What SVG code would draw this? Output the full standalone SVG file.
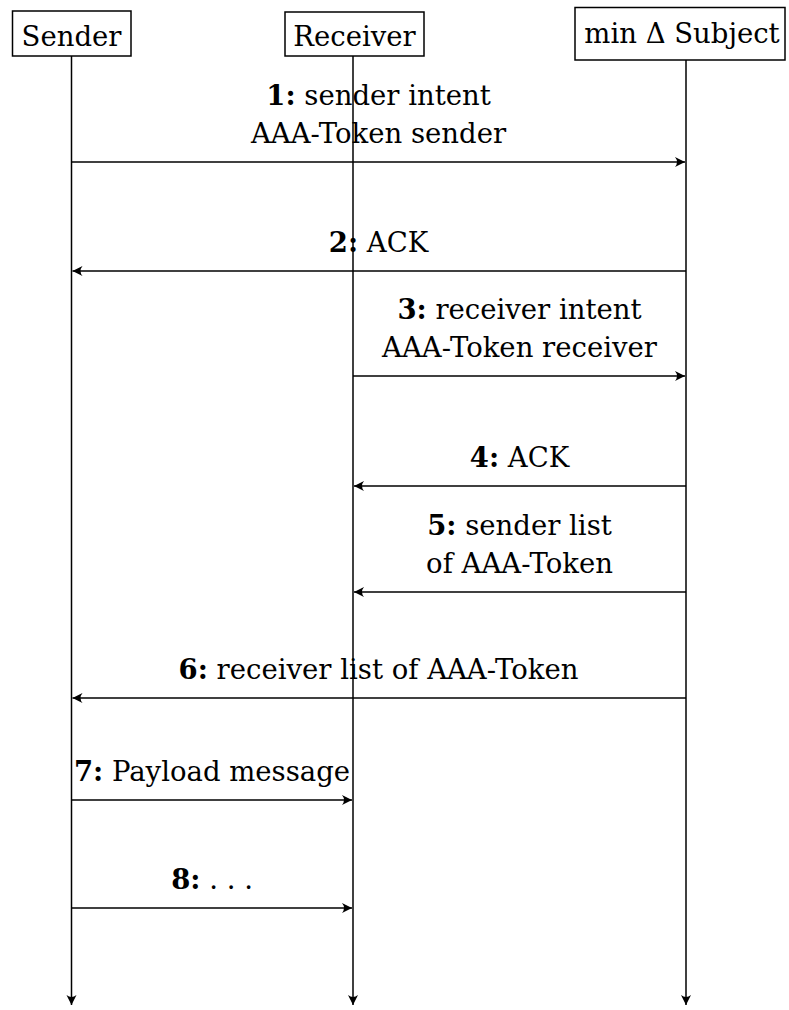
<svg xmlns="http://www.w3.org/2000/svg" width="789" height="1010" viewBox="0 0 789 1010">
<style>
.box{fill:#fff;stroke:#000;stroke-width:1.5}
.msg{stroke:#000;stroke-width:1.5;fill:none;marker-end:url(#tip)}
text{font-family:"DejaVu Serif",serif;font-size:27.5px;fill:#000;text-anchor:middle}
.b{font-weight:bold}
</style>
<defs>
<marker id="tip" markerUnits="userSpaceOnUse" markerWidth="14" markerHeight="14" viewBox="-11 -7 13 14" refX="0" refY="0" orient="auto">
<path d="M0,0 L-10,-5 Q-6,0 -10,5 Z" fill="#000"/>
</marker>
</defs>
<g id="connectors">
<line class="msg" x1="71.5" y1="56" x2="71.5" y2="1005"/>
<line class="msg" x1="353" y1="56" x2="353" y2="1005"/>
<line class="msg" x1="686" y1="60" x2="686" y2="1005"/>
<line class="msg" x1="71.5" y1="162" x2="685" y2="162"/>
<line class="msg" x1="686" y1="271" x2="72.5" y2="271"/>
<line class="msg" x1="353" y1="376" x2="685" y2="376"/>
<line class="msg" x1="686" y1="486" x2="354" y2="486"/>
<line class="msg" x1="686" y1="592" x2="354" y2="592"/>
<line class="msg" x1="686" y1="698" x2="72.5" y2="698"/>
<line class="msg" x1="71.5" y1="800" x2="352" y2="800"/>
<line class="msg" x1="71.5" y1="908" x2="352" y2="908"/>
</g>
<g id="sender">
<rect class="box" x="12.5" y="11" width="118.5" height="45"/>
<text x="71.5" y="46">Sender</text>
</g>
<g id="receiver">
<rect class="box" x="285" y="12" width="139" height="44"/>
<text x="354.5" y="46">Receiver</text>
</g>
<g id="subject">
<rect class="box" x="575" y="7.5" width="210" height="52.5"/>
<text x="682" y="43">min Δ Subject</text>
</g>
<g id="m1">
<text x="378.5" y="105"><tspan class="b">1:</tspan> sender intent</text>
<text x="378.5" y="143">AAA-Token sender</text>
</g>
<g id="m2">
<text x="378.5" y="252"><tspan class="b">2:</tspan> ACK</text>
</g>
<g id="m3">
<text x="519.5" y="319"><tspan class="b">3:</tspan> receiver intent</text>
<text x="519.5" y="357">AAA-Token receiver</text>
</g>
<g id="m4">
<text x="519.5" y="467"><tspan class="b">4:</tspan> ACK</text>
</g>
<g id="m5">
<text x="519.5" y="535"><tspan class="b">5:</tspan> sender list</text>
<text x="519.5" y="573">of AAA-Token</text>
</g>
<g id="m6">
<text x="378.5" y="679"><tspan class="b">6:</tspan> receiver list of AAA-Token</text>
</g>
<g id="m7">
<text x="212" y="781"><tspan class="b">7:</tspan> Payload message</text>
</g>
<g id="m8">
<text x="212" y="889"><tspan class="b">8:</tspan> . . .</text>
</g>
</svg>
